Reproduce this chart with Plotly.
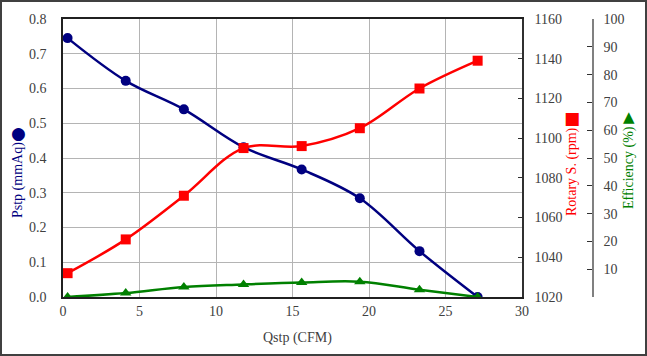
import plotly.graph_objects as go

# Data
q_cfm = [0.3, 4.1, 7.9, 11.8, 15.6, 19.4, 23.3, 27.1]
pstp_mmaq = [0.745, 0.622, 0.540, 0.431, 0.367, 0.284, 0.132, 0.0]
rotary_rpm = [1032, 1049, 1071, 1095, 1096, 1105, 1125, 1139]
efficiency_pct = [0.0, 1.4, 3.6, 4.5, 5.2, 5.5, 2.6, 0.0]

left_ticks = [0.0, 0.1, 0.2, 0.3, 0.4, 0.5, 0.6, 0.7, 0.8]
rpm_ticks = [1020, 1040, 1060, 1080, 1100, 1120, 1140, 1160]
eff_ticks = [0, 10, 20, 30, 40, 50, 60, 70, 80, 90, 100]
x_ticks = [0, 5, 10, 15, 20, 25, 30]

NAVY = "#000080"
RED = "#FF0000"
GREEN = "#008000"
TXT = "#404040"
FONT = "Liberation Serif, Times New Roman, DejaVu Serif, serif"

W, H = 647, 356
ML, MR, MT, MB = 63, 20, 19, 59
PW = W - ML - MR
PH = H - MT - MB
PLOT_R = 522
EFF_X = 593


def px(x):
    return (x - ML) / PW


def py(y):
    return (H - MB - y) / PH


fig = go.Figure()
fig.add_trace(go.Scatter(
    x=q_cfm, y=pstp_mmaq, mode="lines+markers", yaxis="y",
    line=dict(color=NAVY, width=2.5, shape="spline", smoothing=1),
    marker=dict(symbol="circle", size=10, color=NAVY), name="Pstp"))
fig.add_trace(go.Scatter(
    x=q_cfm, y=rotary_rpm, mode="lines+markers", yaxis="y2",
    line=dict(color=RED, width=2.5, shape="spline", smoothing=1),
    marker=dict(symbol="square", size=10, color=RED), name="Rotary S."))
fig.add_trace(go.Scatter(
    x=q_cfm, y=efficiency_pct, mode="lines+markers", yaxis="y3",
    line=dict(color=GREEN, width=2.5, shape="spline", smoothing=1),
    marker=dict(symbol="triangle-up", size=10, color=GREEN), name="Efficiency"))

tickfont = dict(family=FONT, size=14, color=TXT)


def rot_title(text, x, y, color):
    return dict(text=text, xref="paper", yref="paper", x=px(x), y=py(y),
                xanchor="center", yanchor="middle",
                textangle=-90, showarrow=False,
                font=dict(family=FONT, size=14, color=color))


def glyph(text, x, y, color, size):
    return dict(text=text, xref="paper", yref="paper", x=px(x), y=py(y),
                xanchor="center", yanchor="middle",
                showarrow=False, font=dict(family="DejaVu Sans", size=size, color=color))


fig.update_layout(
    width=W, height=H,
    margin=dict(l=ML, r=MR, t=MT, b=MB, pad=0),
    paper_bgcolor="white", plot_bgcolor="white",
    font=dict(family=FONT, size=14, color=TXT),
    showlegend=False,
    xaxis=dict(
        domain=[0, (PLOT_R - ML) / PW], range=[0, 30],
        tickvals=x_ticks, ticktext=[str(v) for v in x_ticks],
        showgrid=True, gridcolor="#b4b4b4", gridwidth=1,
        showline=True, linecolor="#202020", linewidth=1.5, mirror=True,
        ticks="", tickfont=tickfont, zeroline=False,
    ),
    yaxis=dict(
        range=[0, 0.8], tickvals=left_ticks,
        ticktext=[f"{v:.1f}" for v in left_ticks],
        showgrid=True, gridcolor="#b4b4b4", gridwidth=1,
        showline=True, linecolor="#202020", linewidth=1.5,
        ticks="", tickfont=tickfont, zeroline=False, ticklabelstandoff=12,
    ),
    yaxis2=dict(
        range=[1020, 1160], tickvals=rpm_ticks,
        ticktext=[str(v) for v in rpm_ticks],
        overlaying="y", side="right", anchor="x",
        showgrid=False, showline=True, linecolor="#303030", linewidth=1.5,
        ticks="inside", ticklen=4, tickcolor="#303030",
        tickfont=tickfont, zeroline=False, ticklabelstandoff=8,
    ),
    yaxis3=dict(
        range=[0, 100], tickvals=eff_ticks,
        ticktext=["" if v == 0 else str(v) for v in eff_ticks],
        overlaying="y", side="right", anchor="free", position=px(EFF_X),
        showgrid=False, showline=True, linecolor="#808080", linewidth=1.5,
        ticks="inside", ticklen=5, tickcolor="#303030",
        tickfont=tickfont, zeroline=False, ticklabelstandoff=7,
    ),
    annotations=[
        rot_title("Pstp (mmAq)", 18, 180, NAVY),
        glyph("●", 18, 133, NAVY, 17),
        rot_title("Rotary S. (rpm)", 572, 172, RED),
        glyph("■", 572, 118, RED, 17),
        rot_title("Efficiency (%)", 629, 168, GREEN),
        glyph("▲", 629, 117, GREEN, 15),
        dict(text="Qstp (CFM)",
             xref="paper", yref="paper", x=px(297), y=py(338),
             xanchor="center", yanchor="middle",
             showarrow=False,
             font=dict(family=FONT, size=14, color=TXT)),
    ],
    shapes=[
        dict(type="rect", xref="paper", yref="paper",
             x0=px(1), x1=px(646), y0=py(355), y1=py(1),
             line=dict(color="#404040", width=2), fillcolor="rgba(0,0,0,0)"),
    ],
)

fig.write_html("out.html", config={"displayModeBar": False},
               post_script="document.body.style.margin='0';document.body.style.padding='0';")
